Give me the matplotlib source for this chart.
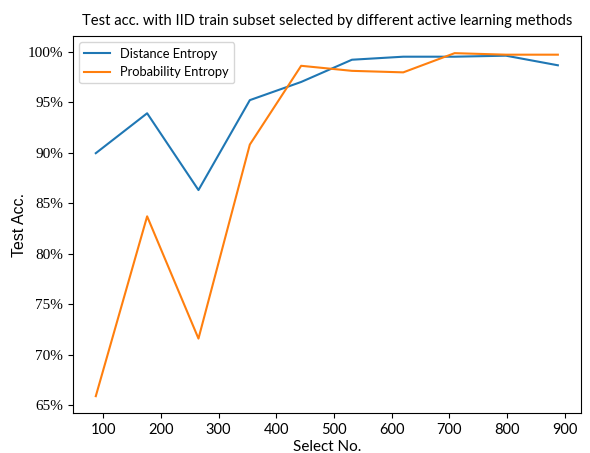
import matplotlib
matplotlib.use("Agg")
import matplotlib.pyplot as plt
from matplotlib.ticker import FuncFormatter

select_no = [87, 176, 265, 354, 443, 531, 620, 709, 798, 888]
distance_entropy = [89.95, 93.9, 86.3, 95.2, 97.0, 99.2, 99.5, 99.5, 99.6, 98.65]
probability_entropy = [65.9, 83.7, 71.6, 90.8, 98.6, 98.1, 97.95, 99.85, 99.7, 99.7]
x_ticks = [100, 200, 300, 400, 500, 600, 700, 800, 900]
y_ticks = [65, 70, 75, 80, 85, 90, 95, 100]

sans = ["Lato", "DejaVu Sans"]
plt.rcParams["font.family"] = sans

fig = plt.figure(figsize=(5.9, 4.53), dpi=100)
ax = fig.add_axes([0.1232, 0.0876, 0.9847 - 0.1232, 0.9205 - 0.0876])

ax.plot(select_no, distance_entropy, color="#1f77b4", lw=1.5, label="Distance Entropy")
ax.plot(select_no, probability_entropy, color="#ff7f0e", lw=1.5, label="Probability Entropy")

ax.set_xticks(x_ticks)
ax.set_yticks(y_ticks)
ax.yaxis.set_major_formatter(FuncFormatter(lambda v, p: f"{v:.0f}%"))
for lab in ax.get_yticklabels():
    lab.set_fontfamily(["Liberation Serif", "DejaVu Serif"])
    lab.set_fontsize(11)
for lab in ax.get_xticklabels():
    lab.set_fontsize(10.5)

ax.set_title("Test acc. with IID train subset selected by different active learning methods",
             fontsize=10.6, pad=8)
ax.set_xlabel("Select No.", fontsize=11, labelpad=2)
ax.set_ylabel("Test Acc.", fontsize=11.5, family=["Liberation Sans", "DejaVu Sans"], labelpad=0)

ax.legend(loc="upper left", fontsize=9.3, handlelength=2.0)

fig.savefig("out.png", dpi=100)
